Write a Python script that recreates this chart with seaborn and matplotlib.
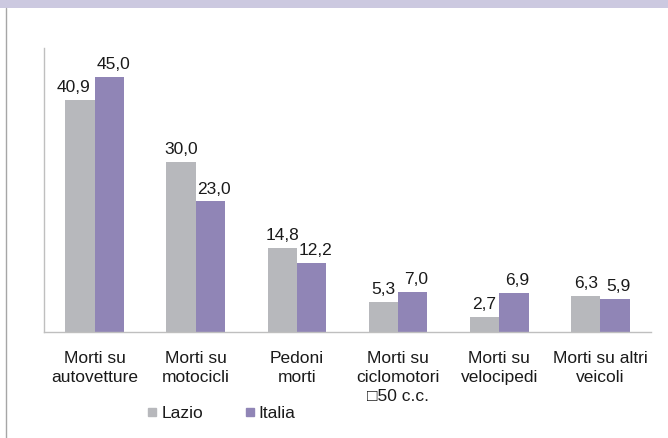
import matplotlib
matplotlib.use("Agg")
import matplotlib.pyplot as plt
from matplotlib.patches import Rectangle
from matplotlib.lines import Line2D
import seaborn as sns
import pandas as pd

sns.set_theme(style="white")
plt.rcParams["font.family"] = ["Liberation Sans", "DejaVu Sans"]

categories = [
    "Morti su\nautovetture",
    "Morti su\nmotocicli",
    "Pedoni\nmorti",
    "Morti su\nciclomotori\n\u25a150 c.c.",
    "Morti su\nvelocipedi",
    "Morti su altri\nveicoli",
]
lazio = [40.9, 30.0, 14.8, 5.3, 2.7, 6.3]
italia = [45.0, 23.0, 12.2, 7.0, 6.9, 5.9]
series = ["Lazio", "Italia"]
colors = {"Lazio": "#B7B8BC", "Italia": "#9085B6"}

df = pd.DataFrame({
    "categoria": categories * 2,
    "valore": lazio + italia,
    "serie": ["Lazio"] * len(categories) + ["Italia"] * len(categories),
})

FS = 12.5
TXT = "#1a1a1a"

fig = plt.figure(figsize=(6.68, 4.38), dpi=100)
ax = fig.add_axes([0.0659, 0.242, 0.9087, 0.648])

sns.barplot(data=df, x="categoria", y="valore", hue="serie", hue_order=series,
            palette=colors, width=0.58, gap=0, saturation=1, ax=ax,
            legend=False, errorbar=None, linewidth=0)

ax.set_ylim(0, 50)
ax.set_xlim(-0.5, len(categories) - 0.5)
ax.set_xlabel("")
ax.set_ylabel("")
ax.set_yticks([])
ax.tick_params(axis="x", length=0, pad=14, labelsize=FS, colors=TXT)
for lbl in ax.get_xticklabels():
    lbl.set_linespacing(1.3)

for side in ("top", "right"):
    ax.spines[side].set_visible(False)
for side in ("left", "bottom"):
    ax.spines[side].set_color("#BFBFBF")
    ax.spines[side].set_linewidth(1.0)

# value labels; the first pair is spread apart so the two labels do not collide
for k, (container, name) in enumerate(zip(ax.containers, series)):
    for i, (bar, v) in enumerate(zip(container.patches, container.datavalues)):
        dx = 2.5 if name == "Italia" else 0
        if i == 0:
            dx = 3 if name == "Italia" else -4.5
        ax.annotate(f"{v:.1f}".replace(".", ","),
                    xy=(bar.get_x() + bar.get_width() / 2, bar.get_height()),
                    xytext=(dx, 3.5), textcoords="offset points",
                    ha="center", va="bottom", fontsize=FS, color=TXT)

# legend below the category labels
handles = [Line2D([0], [0], marker="s", linestyle="", markersize=5.5,
                  markerfacecolor=colors[s], markeredgecolor=colors[s]) for s in series]
fig.legend(handles, series, loc="center", bbox_to_anchor=(0.330, 0.056), ncol=2,
           frameon=False, fontsize=FS, handletextpad=0.1, columnspacing=2.3,
           handlelength=0.8, labelcolor=TXT)

# header band and frame line
fig.patches.append(Rectangle((0, 1 - 8 / 438), 1, 8 / 438, transform=fig.transFigure,
                             facecolor="#CCC9E0", edgecolor="none", zorder=0))
fig.lines.append(Line2D([6 / 668, 6 / 668], [0, 1 - 8 / 438], transform=fig.transFigure,
                        color="#A6A6A6", linewidth=1.0))

fig.savefig("out.png", dpi=100)
